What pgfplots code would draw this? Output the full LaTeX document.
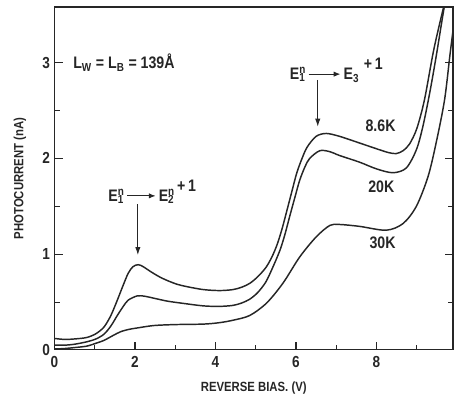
\documentclass[border=0pt]{standalone}
\usepackage{fontspec}
\setmainfont{Liberation Sans}[FakeStretch=0.85]
\usepackage{pgfplots}
\pgfplotsset{compat=1.18}
\usetikzlibrary{arrows.meta}
\newcommand{\tarr}[1]{\tikz[baseline=-0.6ex]\draw[line width=0.7pt,-{Latex[length=5pt,width=4pt]}] (0,0)--(#1,0);}
\newcommand{\Eup}[1]{E\rlap{\textsuperscript{n}}\textsubscript{#1}}

\pgfplotstableread{
v I
0 0.12
0.25 0.11
0.5 0.115
0.8 0.13
1.03 0.17
1.23 0.24
1.4 0.36
1.56 0.52
1.7 0.67
1.83 0.80
1.95 0.87
2.08 0.89
2.2 0.87
2.4 0.815
2.6 0.765
2.8 0.725
3.05 0.685
3.3 0.66
3.7 0.63
4.1 0.62
4.43 0.63
4.65 0.655
4.85 0.695
5.05 0.765
5.25 0.86
5.4 0.97
5.53 1.1
5.65 1.26
5.77 1.45
5.9 1.66
6.02 1.85
6.15 2.0
6.28 2.12
6.5 2.23
6.75 2.26
7.08 2.23
7.58 2.16
8.0 2.10
8.3 2.06
8.49 2.05
8.66 2.08
8.82 2.15
9.0 2.31
9.19 2.61
9.42 3.13
9.65 3.55
9.72 3.65
}\tabA

\pgfplotstableread{
v I
0 0.05
0.25 0.05
0.5 0.06
0.8 0.085
1.03 0.115
1.23 0.165
1.4 0.25
1.56 0.36
1.7 0.45
1.83 0.52
2.06 0.565
2.25 0.56
2.47 0.54
2.8 0.51
3.13 0.49
3.7 0.46
4.1 0.455
4.43 0.465
4.65 0.49
4.85 0.53
5.05 0.6
5.25 0.71
5.42 0.86
5.6 1.04
5.72 1.2
5.84 1.39
5.97 1.59
6.09 1.77
6.22 1.91
6.34 2.0
6.59 2.08
6.84 2.07
7.08 2.03
7.58 1.96
8.0 1.89
8.41 1.85
8.74 1.90
8.99 2.09
9.15 2.33
9.32 2.68
9.48 3.06
9.67 3.55
9.72 3.65
}\tabB

\pgfplotstableread{
v I
0 0.01
0.25 0.015
0.5 0.025
0.8 0.04
1.03 0.07
1.23 0.10
1.45 0.15
1.64 0.19
1.85 0.215
2.06 0.23
2.47 0.255
3.0 0.265
3.7 0.27
4.1 0.285
4.43 0.31
4.85 0.36
5.27 0.49
5.68 0.70
6.09 0.97
6.5 1.18
6.84 1.30
7.08 1.31
7.58 1.29
8.24 1.25
8.66 1.32
8.99 1.50
9.28 1.81
9.48 2.16
9.69 2.61
9.83 3.10
9.95 3.5
}\tabC

\begin{document}
\begin{tikzpicture}
\begin{axis}[
  scale only axis,
  width=298.9pt, height=257.25pt,
  xmin=0, xmax=9.9, ymin=0, ymax=3.58,
  axis line style={line width=0.8pt, black!85},
  xtick={0,2,4,6,8}, minor xtick={1,3,5,7,9},
  ytick={0,1,2,3}, minor ytick={0.5,1.5,2.5},
  xtick pos=left,
  tick align=inside,
  major tick length=6pt, minor tick length=4pt,
  tick style={line width=0.8pt, black!85},
  /pgf/number format/assume math mode=true,
  tick label style={font=\fontsize{12}{14}\selectfont\bfseries, black!85},
  xticklabel style={yshift=-1pt},
  every axis x label/.style={at={(axis description cs:0.5,-0.111)}, anchor=center},
  every axis y label/.style={at={(axis description cs:-0.087,0.5)}, rotate=90, anchor=center},
  label style={font=\fontsize{10}{12}\selectfont\bfseries, black!85},
  xlabel={REVERSE BIAS. (V)},
  ylabel={PHOTOCURRENT (nA)},
]
\coordinate (bbll) at (rel axis cs:0,0);
\coordinate (bbur) at (rel axis cs:1,1);
\addplot[smooth, line width=1.1pt, black!85] table[x=v,y=I] {\tabA};
\addplot[smooth, line width=1.1pt, black!85] table[x=v,y=I] {\tabB};
\addplot[smooth, line width=1.1pt, black!85] table[x=v,y=I] {\tabC};

\draw[line width=0.8pt, black!85, -{Latex[length=6pt,width=4pt]}] (axis cs:2.07,1.52) -- (axis cs:2.07,0.99);
\draw[line width=0.8pt, black!85, -{Latex[length=6pt,width=4pt]}] (axis cs:6.54,2.82) -- (axis cs:6.54,2.33);

\begin{scope}[every node/.style={font=\fontsize{12.5}{14}\selectfont\bfseries, text=black!85, inner sep=0pt}]
\node[anchor=west] at (axis cs:0.46,3.0) {L\textsubscript{W} = L\textsubscript{B} = 139Å};
\node[anchor=west] at (axis cs:1.33,1.65) {\Eup{1}\,\tarr{1.7em}\,\Eup{2}\raisebox{1.1ex}{\,+\,1}};
\node[anchor=west] at (axis cs:5.84,2.92) {\Eup{1}\,\tarr{1.9em}\,E\textsubscript{3}\raisebox{1.1ex}{\;+\,1}};
\node at (axis cs:8.1,2.34) {8.6K};
\node at (axis cs:8.12,1.70) {20K};
\node at (axis cs:8.15,1.12) {30K};
\end{scope}
\end{axis}
\pgfresetboundingbox
\path ([xshift=-40.9pt,yshift=-37.5pt]bbll) rectangle ([xshift=0.75pt,yshift=5.25pt]bbur);
\end{tikzpicture}
\end{document}
